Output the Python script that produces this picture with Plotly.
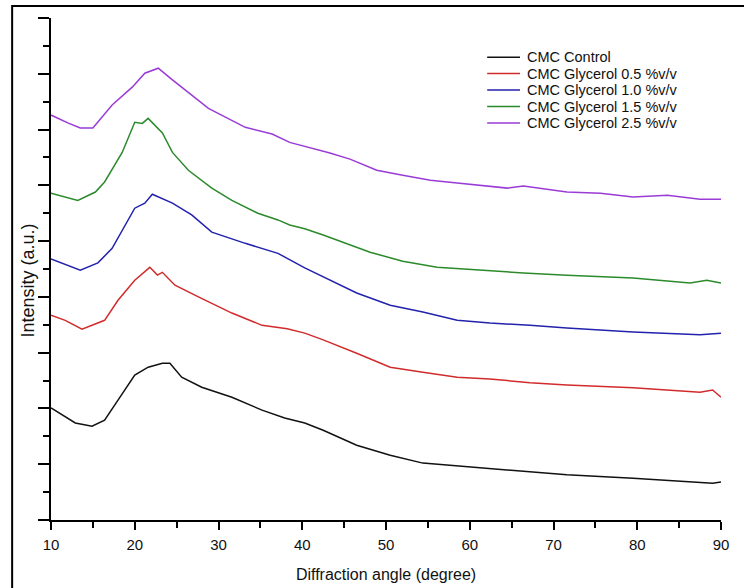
import plotly.graph_objects as go

# Diffraction angle (degree) and intensity (a.u., stacked)
control_x = [10.0, 12.9, 14.9, 16.4, 18.0, 20.0, 21.6, 23.3, 24.2, 25.6, 28.0, 31.6, 35.2, 37.9, 40.3,
             42.5, 46.5, 50.5, 54.4, 58.5, 62.4, 67.2, 71.6, 79.5, 89.0, 90.0]
control_y = [2.01, 1.74, 1.68, 1.79, 2.15, 2.60, 2.74, 2.81, 2.81, 2.56, 2.38, 2.20, 1.97, 1.83, 1.74,
             1.61, 1.34, 1.16, 1.02, 0.97, 0.93, 0.86, 0.81, 0.75, 0.66, 0.68]

gly05_x = [10.0, 11.7, 13.7, 16.4, 18.0, 20.0, 21.8, 22.7, 23.3, 24.8, 27.6, 31.6, 35.2, 38.2, 40.3,
           42.5, 46.5, 50.5, 54.4, 58.5, 62.4, 67.2, 71.6, 79.5, 87.5, 89.0, 90.0]
gly05_y = [3.67, 3.58, 3.42, 3.58, 3.94, 4.30, 4.53, 4.39, 4.44, 4.21, 4.00, 3.71, 3.49, 3.43, 3.35,
           3.23, 2.99, 2.74, 2.65, 2.56, 2.53, 2.46, 2.42, 2.37, 2.29, 2.33, 2.20]

gly10_x = [10.0, 13.5, 15.6, 17.3, 20.0, 21.2, 22.1, 24.5, 26.8, 29.2, 33.2, 37.1, 40.3, 46.5, 50.5,
           54.4, 58.5, 62.4, 67.2, 71.6, 79.5, 87.5, 90.0]
gly10_y = [4.68, 4.48, 4.61, 4.87, 5.59, 5.68, 5.84, 5.68, 5.47, 5.16, 4.96, 4.78, 4.52, 4.07, 3.85,
           3.73, 3.58, 3.53, 3.49, 3.44, 3.37, 3.32, 3.35]

gly15_x = [10.0, 13.2, 15.3, 16.4, 18.5, 20.0, 20.9, 21.6, 23.3, 24.5, 26.4, 29.2, 31.6, 34.7, 37.1,
           38.5, 40.3, 42.5, 48.1, 52.0, 56.1, 60.9, 66.4, 71.6, 79.5, 86.3, 88.3, 90.0]
gly15_y = [5.86, 5.73, 5.88, 6.06, 6.59, 7.13, 7.11, 7.20, 6.94, 6.59, 6.27, 5.95, 5.73, 5.50, 5.38,
           5.29, 5.22, 5.11, 4.80, 4.64, 4.53, 4.48, 4.43, 4.39, 4.34, 4.25, 4.30, 4.25]

gly25_x = [10.0, 12.0, 13.5, 15.0, 17.3, 19.7, 21.2, 22.8, 24.5, 26.8, 28.8, 33.2, 36.4, 38.5, 40.3,
           43.3, 45.7, 48.9, 52.0, 55.3, 58.5, 61.6, 64.5, 66.4, 71.6, 75.6, 79.5, 83.6, 87.5, 90.0]
gly25_y = [7.26, 7.12, 7.03, 7.03, 7.44, 7.76, 8.01, 8.10, 7.89, 7.62, 7.38, 7.04, 6.92, 6.77, 6.70,
           6.58, 6.47, 6.27, 6.18, 6.09, 6.04, 6.00, 5.95, 5.99, 5.88, 5.86, 5.79, 5.82, 5.75, 5.75]

names = ["CMC Control", "CMC Glycerol 0.5 %v/v", "CMC Glycerol 1.0 %v/v",
         "CMC Glycerol 1.5 %v/v", "CMC Glycerol 2.5 %v/v"]
colors = ["#111111", "#d22b2b", "#2222ad", "#2b8a2b", "#9a3bd6"]
xs_all = [control_x, gly05_x, gly10_x, gly15_x, gly25_x]
ys_all = [control_y, gly05_y, gly10_y, gly15_y, gly25_y]

FONT = "Arial, Liberation Sans, sans-serif"

fig = go.Figure()
for name, xs, ys, col in zip(names, xs_all, ys_all, colors):
    fig.add_trace(go.Scatter(x=xs, y=ys, mode="lines", name=name,
                             line=dict(color=col, width=1.5), showlegend=False))

# outer frame + legend drawn as line samples and text (paper coordinates)
shapes = [dict(type="rect", xref="paper", yref="paper",
               x0=-0.058, x1=1.04, y0=-0.15, y1=1.024,
               line=dict(color="black", width=2), fillcolor="rgba(0,0,0,0)")]
annotations = []
leg_top = 0.922
leg_step = 0.0328
for i, (name, col) in enumerate(zip(names, colors)):
    yy = leg_top - i * leg_step
    shapes.append(dict(type="line", xref="paper", yref="paper",
                       x0=0.651, x1=0.700, y0=yy, y1=yy,
                       line=dict(color=col, width=1.5)))
    annotations.append(dict(xref="paper", yref="paper", x=0.707, y=yy,
                            xanchor="left", yanchor="middle", showarrow=False,
                            text=name, font=dict(size=14.5, family=FONT, color="#111111")))

# y-axis title (placed slightly below the axis centre, as in the original)
annotations.append(dict(xref="paper", yref="paper", x=-0.035, y=0.476,
                        xanchor="center", yanchor="middle", showarrow=False, textangle=-90,
                        text="Intensity (a.u.)", font=dict(size=18, family=FONT, color="#111111")))

fig.update_layout(
    width=744, height=588,
    margin=dict(l=51, r=23, t=18, b=68),
    paper_bgcolor="white", plot_bgcolor="white",
    font=dict(family=FONT, size=15, color="#111111"),
    showlegend=False,
    shapes=shapes,
    annotations=annotations,
)

fig.update_xaxes(
    range=[10, 90], dtick=10, tick0=10, automargin=False,
    showline=True, linecolor="black", linewidth=2, mirror=False,
    showgrid=False, zeroline=False,
    ticks="outside", ticklen=8, tickwidth=2, tickcolor="black",
    ticklabelstandoff=2, tickfont=dict(size=15),
    minor=dict(dtick=5, ticks="outside", ticklen=6, tickwidth=2, tickcolor="black", showgrid=False),
    title=dict(text="Diffraction angle (degree)", font=dict(size=16), standoff=17),
)
fig.update_yaxes(
    range=[0, 9], dtick=1, tick0=0, automargin=False,
    showline=True, linecolor="black", linewidth=2, mirror=False,
    showgrid=False, zeroline=False, showticklabels=False,
    ticks="outside", ticklen=11, tickwidth=2, tickcolor="black",
    minor=dict(dtick=0.5, ticks="outside", ticklen=6, tickwidth=2, tickcolor="black", showgrid=False),
)

fig.write_html("out.html", config={"displayModeBar": False},
               post_script="document.body.style.margin='0px';document.body.style.overflow='hidden';")
